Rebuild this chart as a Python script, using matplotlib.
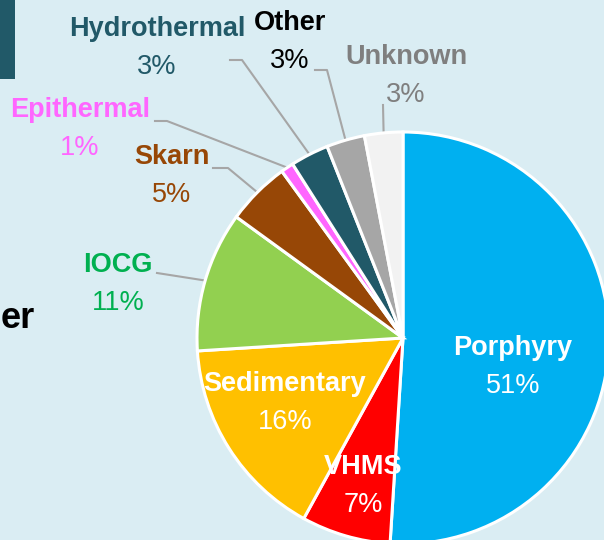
import numpy as np
import matplotlib.pyplot as plt

# deposit types and their share (%)
types = ['Porphyry', 'VHMS', 'Sedimentary', 'IOCG', 'Skarn',
         'Epithermal', 'Hydrothermal', 'Other', 'Unknown']
shares = [51, 7, 16, 11, 5, 1, 3, 3, 3]
colors = ['#00B0F0', '#FF0000', '#FFC000', '#92D050', '#974706',
          '#FF66FF', '#215968', '#A6A6A6', '#F2F2F2']
label_colors = {'IOCG': '#00B050', 'Skarn': '#974706', 'Epithermal': '#FF66FF',
                'Hydrothermal': '#215968', 'Other': '#000000', 'Unknown': '#7F7F7F'}

W, H = 604, 540
BG = '#DAEDF3'
FONT = ['Liberation Sans', 'DejaVu Sans']
FS = 19.5

fig = plt.figure(figsize=(W / 100, H / 100), dpi=100, facecolor=BG)
ax = fig.add_axes([0, 0, 1, 1])

cx, cy, r = 403, H - 338, 206
wedges, _ = ax.pie(shares, colors=colors, startangle=90, counterclock=False,
                   center=(cx, cy), radius=r, frame=True,
                   wedgeprops=dict(edgecolor='white', linewidth=2.2))
ax.set_xlim(0, W)
ax.set_ylim(0, H)
ax.set_aspect('equal')
ax.axis('off')


def label(x, y, name, pct, color):
    # y given in pixels from top
    ax.text(x, H - y, name, ha='center', va='center', color=color,
            fontsize=FS, fontweight='bold', family=FONT)
    ax.text(x, H - y - 38, pct, ha='center', va='center', color=color,
            fontsize=FS, family=FONT)


def anchor(i):
    w = wedges[i]
    a = np.deg2rad((w.theta1 + w.theta2) / 2)
    return cx + r * np.cos(a), cy + r * np.sin(a)


# inside labels
inside = {'Porphyry': (513, 348), 'Sedimentary': (285, 384), 'VHMS': (363, 467)}
# outside labels: text centre, leader line start and elbow (pixels from top)
outside = {'IOCG': ((118, 265), [(157, 273)]),
           'Skarn': ((172, 157), [(213, 168), (228, 168)]),
           'Epithermal': ((80, 110), [(155, 121), (167, 121)]),
           'Hydrothermal': ((157, 29), [(230, 60), (242, 60)]),
           'Other': ((290, 23), [(315, 70), (327, 70)]),
           'Unknown': ((406, 57), [(383, 105)])}

for i, (name, val) in enumerate(zip(types, shares)):
    pct = f'{val}%'
    if name in inside:
        x, y = inside[name]
        label(x, y, name, pct, 'white')
    else:
        (x, y), pts = outside[name]
        label(x, y, name, pct, label_colors[name])
        ex, ey = anchor(i)
        xs = [p[0] for p in pts] + [ex]
        ys = [H - p[1] for p in pts] + [ey]
        ax.plot(xs, ys, color='#A6A6A6', lw=1.5, zorder=0.5)

# slide remnants: dark tab and title text fragment
ax.add_patch(plt.Rectangle((0, H - 79), 15, 79, color='#215968', lw=0))
ax.text(1, H - 328, 'er', ha='left', va='baseline', fontsize=26,
        fontweight='bold', family=FONT, color='black')

fig.savefig('out.png', dpi=100, facecolor=BG)
